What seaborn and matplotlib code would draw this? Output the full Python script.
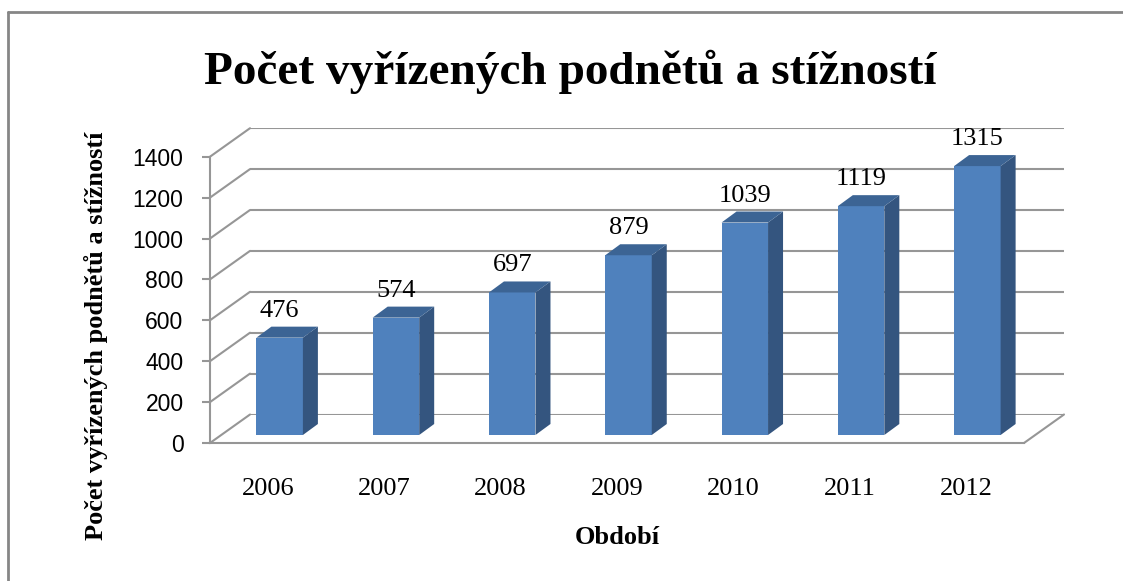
import matplotlib
matplotlib.use("Agg")
import matplotlib.pyplot as plt
from matplotlib.patches import Polygon
from matplotlib.lines import Line2D
import pandas as pd
import seaborn as sns

# data
years = ["2006", "2007", "2008", "2009", "2010", "2011", "2012"]
counts = [476, 574, 697, 879, 1039, 1119, 1315]
y_ticks = [0, 200, 400, 600, 800, 1000, 1200, 1400]

title = "Počet vyřízených podnětů a stížností"
y_title = "Počet vyřízených podnětů a stížností"
x_title = "Období"

df = pd.DataFrame({"rok": years, "pocet": counts})

sns.set_style("white")
plt.rcParams["font.family"] = ["Liberation Serif", "DejaVu Serif"]
plt.rcParams["text.color"] = "black"
plt.rcParams["xtick.color"] = "black"
plt.rcParams["ytick.color"] = "black"
plt.rcParams["axes.labelcolor"] = "black"

# colours
c_front = "#4F81BD"
c_side = "#34557F"
c_top = "#3C6494"
c_grid = "#969696"

W, H = 1123, 581
fig = plt.figure(figsize=(W / 100, H / 100), dpi=100)

# front plane of the 3D box, in pixels
left, bottom, width, height = 210, 443, 814, 286.3
wall_dx, wall_dy = 40, 28.5     # depth of the back wall
bar_dx, bar_dy = 11.5, 8        # where the bar front faces sit
depth_dx, depth_dy = 15, 11     # depth of each bar
ymax = 1400
px_cat = width / len(years)
px_val = height / ymax


def rect(lx, by):
    return [lx / W, 1 - by / H, width / W, height / H]


ax = fig.add_axes(rect(left, bottom))
axw = fig.add_axes(rect(left + wall_dx, bottom - wall_dy))
axb = fig.add_axes(rect(left + bar_dx, bottom - bar_dy))

for a in (ax, axw, axb):
    a.set_facecolor("none")
    a.set_ylim(0, ymax)

# back wall gridlines
axw.set_yticks(y_ticks)
axw.set_xticks([])
axw.grid(axis="y", color=c_grid, lw=1.5)
axw.tick_params(left=False, labelleft=False)
for s in axw.spines.values():
    s.set_visible(False)
axw.set_xlim(-0.5, len(years) - 0.5)

# front frame: axis line, floor edge, diagonals
for s in ("top", "right"):
    ax.spines[s].set_visible(False)
for s in ("left", "bottom"):
    ax.spines[s].set_color(c_grid)
    ax.spines[s].set_linewidth(1.5)
ax.set_xlim(-0.5, len(years) - 0.5)
ax.set_yticks(y_ticks)
ax.set_yticklabels([str(t) for t in y_ticks], family="Liberation Sans", fontsize=16.5)
ax.set_xticks(range(len(years)))
ax.set_xticklabels(years, fontsize=19)
ax.tick_params(axis="y", length=6, width=1.5, color=c_grid, labelcolor="black",
               pad=13, left=True)
ax.tick_params(axis="x", length=0, pad=25, labelcolor="black")

ddx = wall_dx / px_cat
ddy = wall_dy / px_val
for t in y_ticks:
    ax.add_line(Line2D([-0.5, -0.5 + ddx], [t, t + ddy], color=c_grid, lw=1.5, clip_on=False))
ax.add_line(Line2D([len(years) - 0.5, len(years) - 0.5 + ddx], [0, ddy],
                   color=c_grid, lw=1.5, clip_on=False))

ax.set_ylabel(y_title, fontsize=19, fontweight="bold")
ax.yaxis.set_label_coords((96 - left) / width, (bottom - 336) / height)
ax.yaxis.label.set_va("center")
ax.set_xlabel(x_title, fontsize=19, fontweight="bold")
ax.xaxis.set_label_coords(0.5, (bottom - 537) / height)
ax.xaxis.label.set_va("center")

# bars
sns.barplot(data=df, x="rok", y="pocet", color=c_front, width=0.4,
            linewidth=0, saturation=1, ax=axb)
axb.set_xlim(-0.5, len(years) - 0.5)
axb.set_ylim(0, ymax)
axb.axis("off")

bx = depth_dx / px_cat
by = depth_dy / px_val
for p, v in zip(axb.patches, counts):
    x0 = p.get_x()
    x1 = x0 + p.get_width()
    side = [(x1, 0), (x1 + bx, by), (x1 + bx, v + by), (x1, v)]
    top = [(x0, v), (x1, v), (x1 + bx, v + by), (x0 + bx, v + by)]
    axb.add_patch(Polygon(side, closed=True, facecolor=c_side, edgecolor="none", clip_on=False))
    axb.add_patch(Polygon(top, closed=True, facecolor=c_top, edgecolor="none", clip_on=False))
    axb.annotate(str(v), (x0 + p.get_width() / 2, v), xytext=(0, depth_dy + 5),
                 textcoords="offset pixels", ha="center", va="bottom",
                 fontsize=19, color="black", annotation_clip=False)

# title and outer border
fig.text(570 / W, 1 - 72 / H, title, ha="center", va="center",
         fontsize=34, fontweight="bold", color="black")
fig.add_artist(Line2D([8 / W, 8 / W], [0, 1 - 12 / H], color="#868686", lw=2,
                      transform=fig.transFigure))
fig.add_artist(Line2D([8 / W, 1], [1 - 12 / H, 1 - 12 / H], color="#868686", lw=2,
                      transform=fig.transFigure))

fig.savefig("out.png", dpi=100)
